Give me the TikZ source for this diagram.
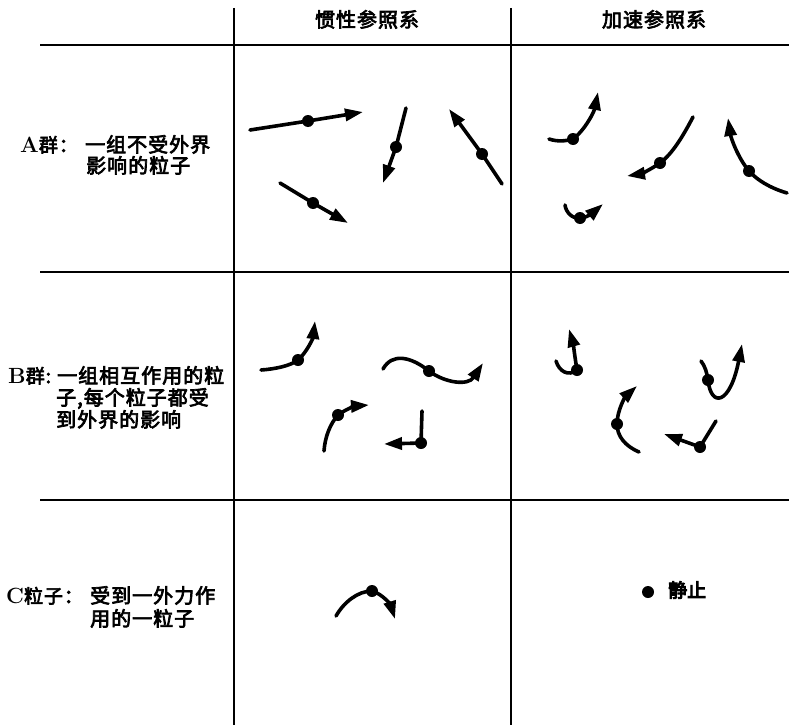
\documentclass[tikz,border=0pt]{standalone}
\usepackage{fontspec}
\usetikzlibrary{arrows.meta}
\newfontfamily\cjk{Noto Sans CJK SC}[LetterSpace=5,RawFeature={embolden=3.5}]
\newfontfamily\cjkb{Noto Sans CJK SC}[RawFeature={embolden=5}]
\newcommand\tagletter[1]{{\fontsize{22}{22}\selectfont\bfseries #1}}
\begin{document}
\begin{tikzpicture}[x=1pt,y=-1pt,
  vgrid/.style={line width=1.8pt},
  hgrid/.style={line width=2.6pt},
  traj/.style={line width=3.6pt, line cap=round, -{Triangle[length=18pt,width=12pt]}},
  dot/.style={circle, fill, inner sep=0pt, minimum size=12pt},
  txt/.style={font=\fontsize{20}{22}\selectfont\cjk, anchor=base west, inner sep=0pt},
  headtxt/.style={font=\fontsize{20}{22}\selectfont\cjk, anchor=base, inner sep=0pt},
  rowtag/.style={font=\fontsize{19}{22}\selectfont, anchor=base west, inner sep=0pt},
]
\useasboundingbox (0,0) rectangle (789,725);

% grid
\coordinate (v1t) at (234,8);   \coordinate (v1b) at (234,725);
\coordinate (v2t) at (511,8);   \coordinate (v2b) at (511,725);
\coordinate (h1l) at (40,45);   \coordinate (h1r) at (789,45);
\coordinate (h2l) at (40,272);  \coordinate (h2r) at (789,272);
\coordinate (h3l) at (40,500);  \coordinate (h3r) at (789,500);
\draw[vgrid] (v1t) -- (v1b);
\draw[vgrid] (v2t) -- (v2b);
\draw[hgrid] (h1l) -- (h1r);
\draw[hgrid] (h2l) -- (h2r);
\draw[hgrid] (h3l) -- (h3r);

% headers
\node[headtxt] (hin) at (367,27) {惯性参照系};
\node[headtxt] (hac) at (654,27) {加速参照系};

% row labels
\node[rowtag] (la) at (20,152) {\tagletter{A}{\cjk 群：}};
\node[txt] (la1) at (85,152) {一组不受外界};
\node[txt] (la2) at (86,173) {影响的粒子};

\node[rowtag] (lb) at (8,383) {\tagletter{B}{\cjk 群:}};
\node[txt] (lb1) at (57,383) {一组相互作用的粒};
\node[txt] (lb2) at (56,405) {子,每个粒子都受};
\node[txt] (lb3) at (56,427) {到外界的影响};

\node[rowtag] (lc) at (6,603) {\tagletter{C}{\cjk 粒子：}};
\node[txt] (lc1) at (90,603) {受到一外力作};
\node[txt] (lc2) at (90,626) {用的一粒子};

% ---- Row A, inertial frame: straight lines
\node[dot] (a1) at (308,121) {};
\draw[traj] (250,130) -- (a1.center) -- (363,112);
\node[dot] (a2) at (396,147) {};
\draw[traj] (406,108) -- (a2.center) -- (383,183);
\node[dot] (a3) at (482,154) {};
\draw[traj] (502,184) -- (a3.center) -- (449,109);
\node[dot] (a4) at (313,203) {};
\draw[traj] (280,183) -- (a4.center) -- (348,223);

% ---- Row A, accelerated frame
\node[dot] (b1) at (573,139) {};
\draw[traj] (549,139) .. controls (558,142) and (566,141) .. (b1.center)
  .. controls (585,130) and (594,112) .. (598,92);
\node[dot] (b2) at (660,163) {};
\draw[traj] (693,117) .. controls (682,138) and (672,154) .. (b2.center)
  .. controls (650,170) and (640,174) .. (627,176);
\node[dot] (b3) at (749,171) {};
\draw[traj] (787,193) .. controls (770,188) and (757,180) .. (b3.center)
  .. controls (738,158) and (731,138) .. (728,118);
\node[dot] (b4) at (580,218) {};
\draw[traj] (565,205) .. controls (566,213) and (573,219) .. (b4.center)
  .. controls (588,218) and (596,210) .. (603,204);

% ---- Row B, inertial frame
\node[dot] (c1) at (298,360) {};
\draw[traj] (261,370) .. controls (275,369) and (290,366) .. (c1.center)
  .. controls (307,352) and (313,338) .. (315,321);
\node[dot] (c2) at (429,371) {};
\draw[traj] (383,369) .. controls (392,353) and (410,356) .. (c2.center)
  .. controls (445,383) and (468,386) .. (483,363);
\node[dot] (c3) at (338,415) {};
\draw[traj] (324,451) .. controls (325,437) and (330,424) .. (c3.center)
  .. controls (346,409) and (356,406) .. (369,405);
\node[dot] (c4) at (421,443) {};
\draw[traj] (422,411) -- (c4.center) -- (384,444);

% ---- Row B, accelerated frame
\node[dot] (d1) at (577,370) {};
\draw[traj] (556,361) .. controls (559,371) and (568,377) .. (d1.center)
  .. controls (575,358) and (573,343) .. (569,329);
\node[dot] (d2) at (708,380) {};
\draw[traj] (701,361) .. controls (705,366) and (707,373) .. (d2.center)
  .. controls (711,408) and (730,405) .. (742,344);
\node[dot] (d3) at (617,424) {};
\draw[traj] (639,452) .. controls (625,446) and (617,436) .. (d3.center)
  .. controls (617,410) and (626,396) .. (637,386);
\node[dot] (d4) at (700,447) {};
\draw[traj] (716,421) -- (d4.center) -- (664,434);

% ---- Row C
\node[dot] (e1) at (372,591) {};
\draw[traj] (336,616) .. controls (344,602) and (358,591) .. (e1.center)
  .. controls (383,594) and (391,606) .. (395,619);
\node[dot] (e2) at (648,592) {};
\node[font=\fontsize{19}{20}\selectfont\cjkb, anchor=west, inner sep=0pt] (rest) at (668,590) {静止};
\end{tikzpicture}
\end{document}
